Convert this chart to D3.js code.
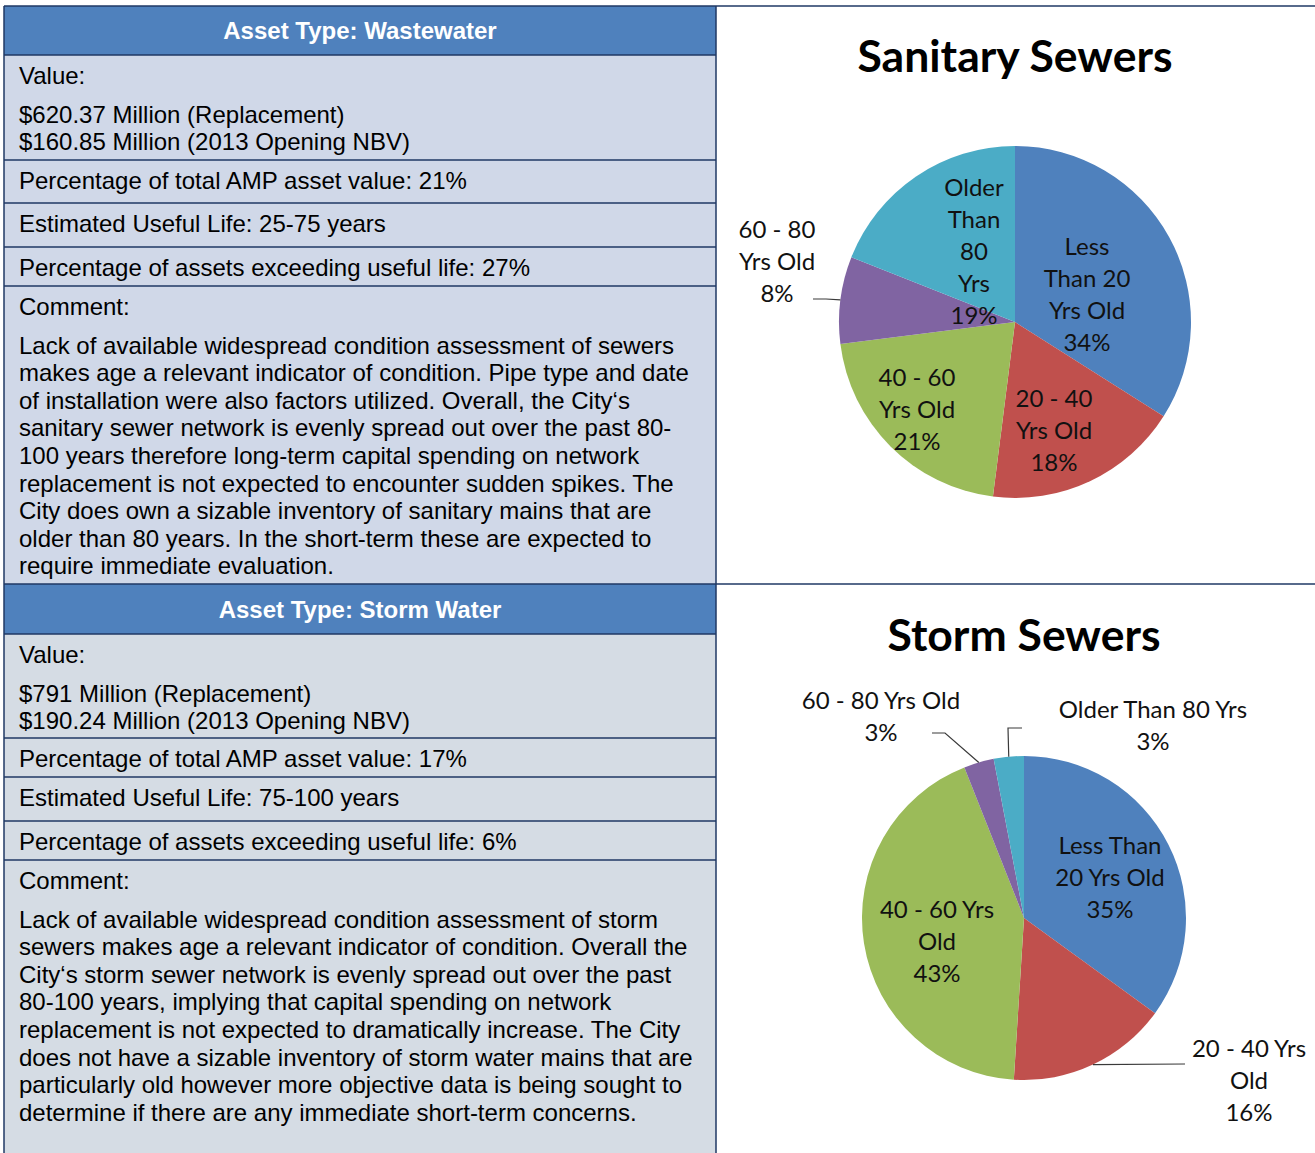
<!DOCTYPE html>
<html>
<head>
<meta charset="utf-8">
<script src="https://cdn.jsdelivr.net/npm/d3@7"></script>
<style>
  body { margin: 0; background: #fff; }
  svg { display: block; }
</style>
</head>
<body>
<script>
// pie data - age groups, percent of network
var categories = ["Less Than 20 Yrs Old", "20 - 40 Yrs Old", "40 - 60 Yrs Old", "60 - 80 Yrs Old", "Older Than 80 Yrs"];
var sanitaryValues = [34, 18, 21, 8, 19];
var stormValues = [35, 16, 43, 3, 3];
var sliceColors = ["#4F81BD", "#C0504D", "#9BBB59", "#8064A2", "#4BACC6"];

// how each chart breaks its labels
var sanitaryLabels = [["Less", "Than 20", "Yrs Old"], ["20 - 40", "Yrs Old"], ["40 - 60", "Yrs Old"], ["60 - 80", "Yrs Old"], ["Older", "Than", "80", "Yrs"]];
var stormLabels = [["Less Than", "20 Yrs Old"], ["20 - 40 Yrs", "Old"], ["40 - 60 Yrs", "Old"], ["60 - 80 Yrs Old"], ["Older Than 80 Yrs"]];

// table text (rows -> paragraphs -> lines)
var wastewaterHeader = "Asset Type: Wastewater";
var wastewaterRows = [
  [["Value:"], ["$620.37 Million (Replacement)", "$160.85 Million (2013 Opening NBV)"]],
  [["Percentage of total AMP asset value: 21%"]],
  [["Estimated Useful Life: 25-75 years"]],
  [["Percentage of assets exceeding useful life: 27%"]],
  [["Comment:"], ["Lack of available widespread condition assessment of sewers",
    "makes age a relevant indicator of condition. Pipe type and date",
    "of installation were also factors utilized. Overall, the City\u2018s",
    "sanitary sewer network is evenly spread out over the past 80-",
    "100 years therefore long-term capital spending on network",
    "replacement is not expected to encounter sudden spikes. The",
    "City does own a sizable inventory of sanitary mains that are",
    "older than 80 years. In the short-term these are expected to",
    "require immediate evaluation."]]
];
var stormHeader = "Asset Type: Storm Water";
var stormRows = [
  [["Value:"], ["$791 Million (Replacement)", "$190.24 Million (2013 Opening NBV)"]],
  [["Percentage of total AMP asset value: 17%"]],
  [["Estimated Useful Life: 75-100 years"]],
  [["Percentage of assets exceeding useful life: 6%"]],
  [["Comment:"], ["Lack of available widespread condition assessment of storm",
    "sewers makes age a relevant indicator of condition. Overall the",
    "City\u2018s storm sewer network is evenly spread out over the past",
    "80-100 years, implying that capital spending on network",
    "replacement is not expected to dramatically increase. The City",
    "does not have a sizable inventory of storm water mains that are",
    "particularly old however more objective data is being sought to",
    "determine if there are any immediate short-term concerns."]]
];

var width = 1315, height = 1153;
var tableLeft = 4, tableRight = 716;
var borderColor = "#1F3864";
var lineH = 27.6, paraH = 38.6;
var tableFont = "'Liberation Sans', Arial, sans-serif";
var chartFont = "Lato, 'Open Sans', sans-serif";

var svg = d3.select("body")
  .append("svg")
  .attr("width", width)
  .attr("height", height);

var sections = [
  {header: wastewaterHeader, rows: wastewaterRows, top: 6, heights: [49, 105, 43, 44, 39, 298], fill: "#D0D8E8"},
  {header: stormHeader, rows: stormRows, top: 584, heights: [50, 104, 39, 44, 39, 293], fill: "#D5DCE4"}
];

sections.forEach(function(s){
  var g = svg.append("g");
  var y = s.top;
  // header row
  g.append("rect")
    .attr("x", tableLeft).attr("y", y)
    .attr("width", tableRight - tableLeft).attr("height", s.heights[0])
    .style("fill", "#4F81BD");
  g.append("text")
    .attr("x", (tableLeft + tableRight) / 2)
    .attr("y", y + s.heights[0] / 2)
    .attr("text-anchor", "middle")
    .attr("dominant-baseline", "central")
    .style("font-family", tableFont)
    .style("font-weight", "bold")
    .style("font-size", "24px")
    .style("fill", "#fff")
    .text(s.header);
  y += s.heights[0];

  s.rows.forEach(function(row, i){
    var h = s.heights[i + 1];
    g.append("rect")
      .attr("x", tableLeft).attr("y", y)
      .attr("width", tableRight - tableLeft).attr("height", h)
      .style("fill", s.fill);
    var ty = y + 20.5;
    row.forEach(function(para, p){
      if (p > 0) ty += paraH - lineH;
      para.forEach(function(line){
        g.append("text")
          .attr("x", 19)
          .attr("y", ty)
          .attr("dominant-baseline", "central")
          .style("font-family", tableFont)
          .style("font-size", "24px")
          .style("fill", "#000")
          .text(line);
        ty += lineH;
      });
    });
    // row separator
    g.append("line")
      .attr("x1", tableLeft).attr("x2", tableRight)
      .attr("y1", y).attr("y2", y)
      .style("stroke", borderColor).style("stroke-width", 1.5);
    y += h;
  });
});

// panel borders
svg.append("line").attr("x1", tableLeft).attr("x2", width).attr("y1", 6).attr("y2", 6)
  .style("stroke", borderColor).style("stroke-width", 1.5);
svg.append("line").attr("x1", tableLeft).attr("x2", width).attr("y1", 584).attr("y2", 584)
  .style("stroke", borderColor).style("stroke-width", 1.5);
svg.append("line").attr("x1", tableLeft).attr("x2", tableLeft).attr("y1", 6).attr("y2", height)
  .style("stroke", borderColor).style("stroke-width", 1.5);
svg.append("line").attr("x1", tableRight).attr("x2", tableRight).attr("y1", 6).attr("y2", height)
  .style("stroke", borderColor).style("stroke-width", 1.5);

// pies
var pies = [
  {title: "Sanitary Sewers", values: sanitaryValues, labels: sanitaryLabels, cx: 1015, cy: 322, r: 176, titleY: 72,
   labelPos: [[72, -28.5], [39, 107.5], [-98, 86.5], [-238, -62], [-41, -72]],
   leaders: {3: [[-202, -23], [-189, -23]]}},
  {title: "Storm Sewers", values: stormValues, labels: stormLabels, cx: 1024, cy: 918, r: 162, titleY: 651,
   labelPos: [[86, -42], [225, 161.5], [-87, 22.5], [-143, -203], [129, -194]],
   leaders: {1: [[161, 146], [161, 146]], 3: [[-92, -185], [-79, -185]], 4: [[-2, -190], [-16, -190]]}}
];

var pie = d3.pie().sort(null).value(function(d){ return d; });

pies.forEach(function(p){
  var g = svg.append("g").attr("transform", "translate(" + p.cx + "," + p.cy + ")");
  var arc = d3.arc().innerRadius(0).outerRadius(p.r);
  var edge = d3.arc().innerRadius(p.r).outerRadius(p.r);
  var arcs = pie(p.values);

  g.selectAll("path.slice")
    .data(arcs)
    .enter().append("path")
    .attr("class", "slice")
    .attr("d", arc)
    .style("fill", function(d, i){ return sliceColors[i]; });

  svg.append("text")
    .attr("x", p.cx).attr("y", p.titleY)
    .attr("text-anchor", "middle")
    .style("font-family", chartFont)
    .style("font-weight", "bold")
    .style("font-size", "44.5px")
    .style("fill", "#000")
    .text(p.title);

  // leader lines from label to slice edge
  Object.keys(p.leaders).forEach(function(k){
    var pts = p.leaders[k].concat([edge.centroid(arcs[k])]);
    g.append("path")
      .attr("d", d3.line()(pts))
      .style("fill", "none")
      .style("stroke", "#3a3a3a")
      .style("stroke-width", 1.2);
  });

  arcs.forEach(function(d, i){
    var lines = p.labels[i].concat([d.data + "%"]);
    var lh = 32;
    var y0 = p.labelPos[i][1] - (lines.length - 1) * lh / 2;
    var t = g.append("text")
      .attr("text-anchor", "middle")
      .style("font-family", chartFont)
      .style("font-size", "24px")
      .style("fill", "#111");
    lines.forEach(function(l, j){
      t.append("tspan")
        .attr("x", p.labelPos[i][0])
        .attr("y", y0 + j * lh)
        .attr("dominant-baseline", "central")
        .text(l);
    });
  });
});
</script>
</body>
</html>
